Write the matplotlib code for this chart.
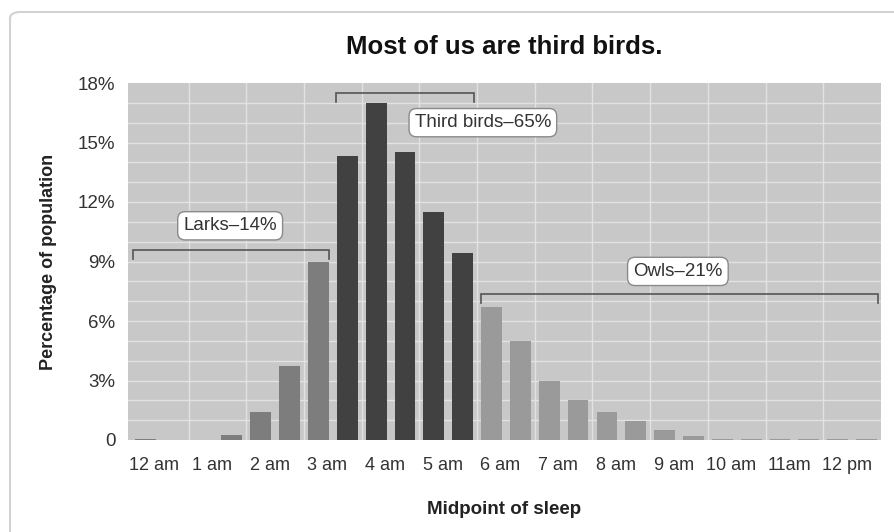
import matplotlib
matplotlib.use("Agg")
import matplotlib.pyplot as plt
import numpy as np
from matplotlib.patches import FancyBboxPatch
from matplotlib.transforms import ScaledTranslation

# ---- data ----
hours = [0, 0.5, 1, 1.5, 2, 2.5, 3, 3.5, 4, 4.5, 5, 5.5, 6, 6.5, 7, 7.5, 8, 8.5,
         9, 9.5, 10, 10.5, 11, 11.5, 12, 12.5]
values = [0.05, 0, 0, 0.25, 1.4, 3.75, 9.0, 14.3, 17.0, 14.5, 11.5, 9.45, 6.7, 5.0,
          2.95, 2.0, 1.4, 0.95, 0.5, 0.18, 0.06, 0.04, 0.04, 0.04, 0.04, 0.04]
groups = ["lark"] * 7 + ["third"] * 5 + ["owl"] * 14
tick_hours = list(range(13))
tick_labels = ["12 am", "1 am", "2 am", "3 am", "4 am", "5 am", "6 am", "7 am",
               "8 am", "9 am", "10 am", "11am", "12 pm"]
ytick_vals = [0, 3, 6, 9, 12, 15, 18]
ytick_labels = ["0", "3%", "6%", "9%", "12%", "15%", "18%"]
bracket_labels = ["Larks\u201314%", "Third birds\u201365%", "Owls\u201321%"]
bracket_spans = [(-0.21, 3.18), (3.3, 5.7), (5.81, 12.7)]
bracket_levels = [9.6, 17.5, 7.35]
label_pos = [(1.47, 10.8), (5.85, 16.0), (9.23, 8.5)]

group_colors = {"lark": "#7d7d7d", "third": "#414141", "owl": "#9a9a9a"}

plt.rcParams["font.family"] = ["Liberation Sans Narrow", "Liberation Sans", "DejaVu Sans"]

fig = plt.figure(figsize=(8.94, 5.32), dpi=100)
fig.patch.set_facecolor("white")

# figure border
border = FancyBboxPatch((10 / 894, 1 - 560 / 532), 900 / 894, 548 / 532,
                        boxstyle="round,pad=0,rounding_size=0.012",
                        transform=fig.transFigure, facecolor="none",
                        edgecolor="#d2d2d2", linewidth=1.5, clip_on=False)
fig.patches.append(border)

ax = fig.add_axes([128 / 894, 1 - 440 / 532, (881 - 128) / 894, (440 - 83) / 532])
ax.set_facecolor("#c8c8c8")

ax.set_xlim(-0.3, 12.75)
ax.set_ylim(0, 18)

# grid
for yy in np.arange(1, 18, 1):
    ax.axhline(yy, color="#e2e2e2", lw=1.0, zorder=1)
for xx in np.arange(0.75, 12.5, 1):
    ax.axvline(xx, color="#e2e2e2", lw=1.0, zorder=1)

colors = [group_colors[g] for g in groups]
ax.bar(hours, values, width=0.36, color=colors, zorder=2)

for sp in ax.spines.values():
    sp.set_visible(False)

ax.set_xticks(tick_hours)
ax.set_xticklabels(tick_labels, fontsize=13, color="#333333")
ax.set_yticks(ytick_vals)
ax.set_yticklabels(ytick_labels, fontsize=13.5, color="#333333")
ax.tick_params(axis="x", length=0, pad=12)
ax.tick_params(axis="y", length=0, pad=9)
for lbl in ax.get_xticklabels():
    lbl.set_transform(lbl.get_transform() + ScaledTranslation(9 / 100, 0, fig.dpi_scale_trans))

ax.set_xlabel("Midpoint of sleep", fontsize=13.5, fontweight="bold", color="#222222", labelpad=20)
ax.set_ylabel("Percentage of population", fontsize=13, fontweight="bold", color="#222222", labelpad=15)
ax.set_title("Most of us are third birds.", fontsize=18.5, fontweight="bold", color="#111111",
             pad=21)

# brackets
for (x0, x1), lev in zip(bracket_spans, bracket_levels):
    ax.plot([x0, x0, x1, x1], [lev - 0.45, lev, lev, lev - 0.45], color="#555555",
            lw=1.2, zorder=3, solid_joinstyle="miter")

for txt, (lx, ly) in zip(bracket_labels, label_pos):
    ax.text(lx, ly, txt, ha="center", va="center", fontsize=13.5, color="#333333", zorder=4,
            bbox=dict(boxstyle="round,pad=0.3,rounding_size=0.4", facecolor="white",
                      edgecolor="#8a8a8a", linewidth=1.0))

fig.savefig("out.png", dpi=100)
